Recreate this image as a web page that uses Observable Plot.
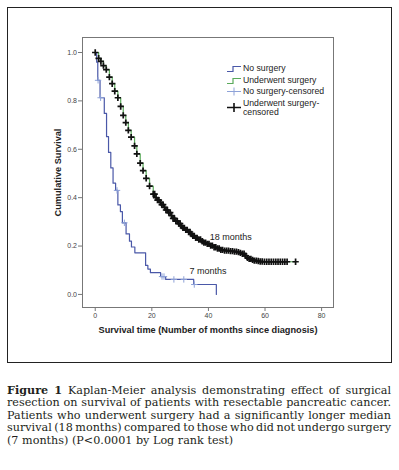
<!DOCTYPE html>
<html><head><meta charset="utf-8">
<script src="https://cdn.jsdelivr.net/npm/d3@7"></script>
<script src="https://cdn.jsdelivr.net/npm/@observablehq/plot@0.6"></script>
<style>
body{margin:0;background:#fff;}
#wrap{position:relative;width:399px;height:470px;overflow:hidden;background:#fff;}
#chart{position:absolute;left:0;top:0;}
#frame{position:absolute;left:7px;top:7px;width:385px;height:356px;border:1px solid #222;box-sizing:border-box;pointer-events:none;}
#legend{position:absolute;left:226px;top:60px;font-family:"Liberation Sans",Arial,sans-serif;font-size:8.7px;color:#222;}
.li{position:absolute;white-space:nowrap;}
.li svg{position:absolute;left:0;}
.li span{position:absolute;left:17px;line-height:9px;}
#caption{position:absolute;left:7px;top:383.5px;width:384px;font-family:"DejaVu Serif",serif;font-size:11.2px;line-height:12.5px;color:#231f20;}
#caption div{white-space:nowrap;}
#caption span.ln{display:inline-block;}
</style></head><body>
<div id="wrap"><div id="chart"></div><div id="frame"></div>
<div id="legend">
 <div class="li" style="top:4px"><svg width="16" height="9"><path d="M1,7.5H7V2.5H15" fill="none" stroke="#4a58a8" stroke-width="1.2"/></svg><span style="top:0">No surgery</span></div>
 <div class="li" style="top:15.5px"><svg width="16" height="9"><path d="M1,7.5H7V2.5H15" fill="none" stroke="#5aaa5a" stroke-width="1.2"/></svg><span style="top:0">Underwent surgery</span></div>
 <div class="li" style="top:26.5px"><svg width="16" height="9"><path d="M1,4.5H15M8,0.5V8.5" fill="none" stroke="#8ea2d8" stroke-width="1"/></svg><span style="top:0">No surgery-censored</span></div>
 <div class="li" style="top:38.5px"><svg width="16" height="16"><path d="M1,8.5H15M8,4V13" fill="none" stroke="#111" stroke-width="1.6"/></svg><span style="top:0">Underwent surgery-<br>censored</span></div>
</div>
<div id="caption">
<div class="j"><span class="ln"><b>Figure 1</b> Kaplan-Meier analysis demonstrating effect of surgical</span></div>
<div class="j"><span class="ln">resection on survival of patients with resectable pancreatic cancer.</span></div>
<div class="j"><span class="ln">Patients who underwent surgery had a significantly longer median</span></div>
<div class="j"><span class="ln">survival (18 months) compared to those who did not undergo surgery</span></div>
<div><span class="ln">(7 months) (P&lt;0.0001 by Log rank test)</span></div>
</div>
</div>
<script>
// Kaplan-Meier steps [months, cumulative survival]
const noSurgery = [[0,1.0],[0.5,0.96],[0.9,0.885],[1.7,0.813],[3.2,0.748],[4.0,0.652],[4.7,0.587],[5.5,0.523],[6.3,0.46],[7.2,0.43],[8.0,0.37],[8.9,0.342],[9.6,0.296],[10.9,0.25],[12.1,0.22],[12.8,0.196],[14.0,0.172],[17.8,0.12],[18.6,0.105],[19.5,0.09],[23.1,0.074],[24.9,0.062],[34.8,0.041],[42.8,0.0]];
const surgery = [[0,1.0],[1.2,0.976],[2.0,0.963],[2.9,0.946],[3.9,0.929],[5.0,0.898],[6.0,0.871],[6.9,0.84],[8.0,0.813],[9.0,0.777],[9.9,0.74],[10.8,0.71],[11.7,0.678],[12.7,0.65],[13.9,0.614],[14.7,0.581],[15.9,0.543],[16.9,0.512],[18.0,0.48],[19.2,0.448],[20.5,0.415],[21.3,0.40],[21.9,0.39],[22.7,0.381],[23.5,0.371],[24.2,0.36],[24.9,0.349],[25.7,0.338],[26.6,0.326],[27.4,0.314],[28.2,0.303],[29.1,0.293],[30.1,0.283],[31.0,0.275],[31.9,0.267],[32.7,0.258],[33.6,0.25],[34.5,0.242],[35.4,0.234],[36.4,0.227],[37.4,0.22],[38.4,0.214],[39.5,0.209],[40.7,0.202],[41.9,0.195],[43.0,0.19],[44.2,0.184],[45.7,0.181],[47.2,0.179],[48.6,0.177],[50.1,0.175],[51.0,0.172],[51.9,0.168],[52.8,0.16],[53.6,0.151],[54.4,0.147],[55.1,0.143],[56.2,0.14],[57.2,0.138],[58.3,0.136],[59.5,0.135],[70.8,0.135]];
// censoring times (months)
const noSurgeryCensored = [1.0, 1.9, 7.7, 10.3, 23.6, 24.3, 27.8, 31.3, 35.0];
const surgeryCensored = [0,1.2,2.0,2.9,3.9,5.0,6.0,6.9,8.0,9.0,9.9,10.8,11.7,12.7,13.9,14.7,15.9,16.9,18.0,19.2,20.5,21.0,21.5,22.0,22.5,23.0,23.5,24.0,24.5,25.0,25.5,26.0,26.5,27.0,27.5,28.0,28.5,29.0,29.5,30.0,30.5,31.0,31.5,32.0,32.5,33.0,33.5,34.0,34.5,35.0,35.5,36.0,36.6,37.2,37.8,38.4,39.0,39.6,40.2,40.8,41.4,42.0,42.6,43.2,43.8,44.4,45.0,45.7,46.4,47.1,47.8,48.5,49.2,49.9,50.6,51.3,52.0,52.6,53.2,53.8,54.4,55.0,55.6,56.2,56.9,57.6,58.3,59.0,59.8,60.6,61.4,62.2,63.0,63.8,64.6,65.4,66.2,67.0,67.8,70.8];
const xTicks = [0, 20, 40, 60, 80];
const yTicks = [0, 0.2, 0.4, 0.6, 0.8, 1.0];
const annotations = [{label:"18 months", t:40.5, s:0.237}, {label:"7 months", t:33.3, s:0.095}];

function survAt(steps, t){ let s = steps[0][1]; for (const [tt, ss] of steps) if (tt <= t + 1e-9) s = ss; return s; }
const toObj = a => a.map(([t, s]) => ({t, s}));
const cNo = noSurgeryCensored.map(t => ({t, s: survAt(noSurgery, t)}));
const cSu = surgeryCensored.map(t => ({t, s: survAt(surgery, t)}));

const chart = Plot.plot({
  width: 399, height: 345,
  marginLeft: 82, marginRight: 66, marginTop: 37, marginBottom: 38,
  x: {domain: [-4.5, 84.2]},
  y: {domain: [-0.054, 1.062]},
  style: {fontFamily: "'Liberation Sans', Arial, sans-serif", background: "white", overflow: "visible"},
  marks: [
    Plot.frame({stroke: "#777"}),
    Plot.axisX({ticks: xTicks, tickSize: 4, tickPadding: 2, fontSize: 7, stroke: "#777", fill: "#444", label: null}),
    Plot.axisY({ticks: yTicks, tickSize: 4, tickPadding: 1.5, fontSize: 7, stroke: "#777", fill: "#444", tickFormat: d3.format(".1f"), label: null}),
    Plot.text(["Survival time (Number of months since diagnosis)"], {frameAnchor: "bottom", dy: 23, lineAnchor: "middle", textAnchor: "middle", fontSize: 9.2, fontWeight: "bold", fill: "#222"}),
    Plot.text(["Cumulative Survival"], {frameAnchor: "left", dx: -24, rotate: -90, textAnchor: "middle", lineAnchor: "middle", fontSize: 9.2, fontWeight: "bold", fill: "#222"}),
    Plot.line(toObj(surgery), {x: "t", y: "s", curve: "step-after", stroke: "#5aaa5a", strokeWidth: 1.2}),
    Plot.line(toObj(noSurgery), {x: "t", y: "s", curve: "step-after", stroke: "#4a58a8", strokeWidth: 1.2}),
    Plot.dot(cNo, {x: "t", y: "s", symbol: "plus", r: 2.2, stroke: "#8ea2d8", strokeWidth: 1}),
    Plot.dot(cSu, {x: "t", y: "s", symbol: "plus", r: 2.2, stroke: "#111", strokeWidth: 1.7}),
    Plot.text(annotations, {x: "t", y: "s", text: "label", textAnchor: "start", fontSize: 9, fill: "#222"})
  ]
});
document.getElementById("chart").appendChild(chart);

// justify each caption line to the full width by adjusting word spacing
const W = 384;
document.querySelectorAll("#caption div.j span.ln").forEach(sp => {
  const nat = sp.getBoundingClientRect().width;
  const gaps = (sp.textContent.match(/ /g) || []).length;
  if (gaps) sp.style.wordSpacing = ((W - nat) / gaps) + "px";
});
</script>
</body></html>
